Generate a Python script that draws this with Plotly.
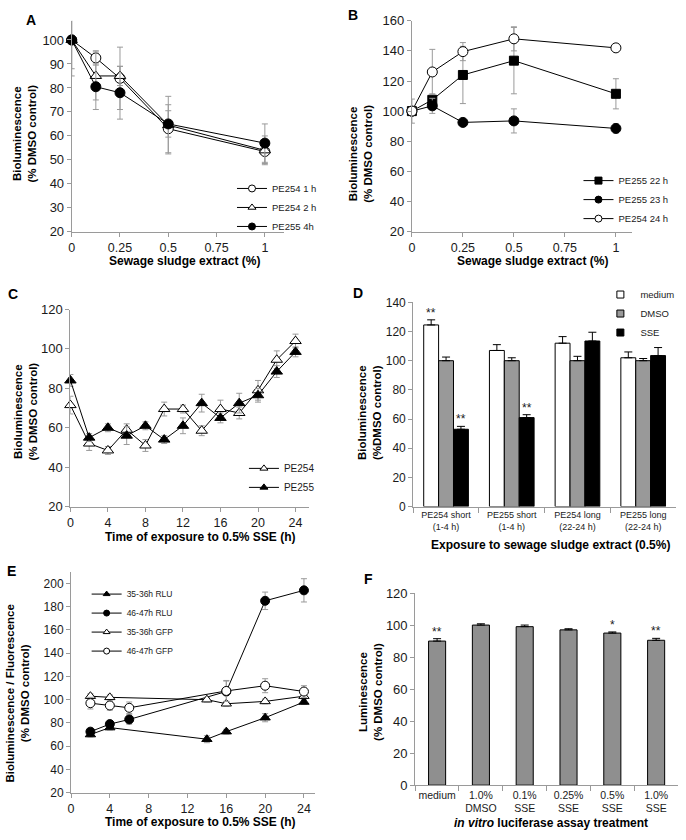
import plotly.graph_objects as go

W, H = 686, 840


def px(x):
    return x / W


def py(y):
    return 1 - y / H


# ---------------- data ----------------
# Panel A
a_x = [0, 0.125, 0.25, 0.5, 1]
a_pe254_1h = [100, 92.5, 84, 63, 53.5]
a_pe254_1h_err = [0, 3, 13, 10, 5]
a_pe254_2h = [100, 85, 85, 64.5, 54]
a_pe254_2h_err = [12, 10, 4, 12, 6]
a_pe255_4h = [100, 80.5, 78, 65, 57]
a_pe255_4h_err = [15, 9.5, 11, 5.5, 8]

# Panel B
b_x = [0, 0.1, 0.25, 0.5, 1]
b_pe255_22h = [100, 107.5, 124, 133.5, 111.5]
b_pe255_22h_err = [0, 4, 19, 22, 10]
b_pe255_23h = [100, 103.5, 92.5, 93.5, 88.5]
b_pe255_23h_err = [0, 5, 1.5, 8, 3]
b_pe254_24h = [100, 126, 139.5, 148, 142]
b_pe254_24h_err = [8, 15, 6, 8, 0]

# Panel C
c_x = [0, 2, 4, 6, 8, 10, 12, 14, 16, 18, 20, 22, 24]
c_pe254 = [71.5, 52, 48.5, 59, 51, 69.5, 69.5, 58.5, 69.5, 67.5, 79, 94.5, 104]
c_pe254_err = [4.5, 3.5, 2, 3, 3, 3.5, 2, 2.5, 4.5, 3, 5, 4.5, 3.5]
c_pe255 = [84, 55, 60, 56, 61, 54, 61, 72.5, 65, 72.5, 76.5, 88.5, 98.5]
c_pe255_err = [3, 2, 2, 4.5, 2, 2, 4, 4.5, 2.5, 5, 3.5, 3, 2.5]

# Panel D
d_cats = ["PE254 short<br>(1-4 h)", "PE255 short<br>(1-4 h)",
          "PE254 long<br>(22-24 h)", "PE255 long<br>(22-24 h)"]
d_medium = [124.5, 107, 112, 102]
d_medium_err = [3.5, 4, 4.5, 4]
d_dmso = [100, 100, 100, 100]
d_dmso_err = [2.5, 2, 3, 1.5]
d_sse = [53, 61, 113.5, 103.5]
d_sse_err = [2, 2, 6, 5.5]
d_medium_sig = ["**", "", "", ""]
d_sse_sig = ["**", "**", "", ""]

# Panel E
e_x_35 = [2, 4, 14, 16, 20, 24]
e_x_46 = [2, 4, 6, 16, 20, 24]
e_rlu_35 = [70, 76, 66, 72.5, 84.5, 98]
e_rlu_35_err = [2, 2, 3, 2, 3.5, 2]
e_rlu_46 = [72.5, 79, 83, 107, 185, 194]
e_rlu_46_err = [2, 3, 4, 9, 7.5, 10]
e_gfp_35 = [103, 102, 100, 96.5, 98.5, 103]
e_gfp_35_err = [2, 2, 2, 2, 2, 2]
e_gfp_46 = [97, 95, 93, 107.5, 112, 107]
e_gfp_46_err = [5, 4, 5, 9, 6, 5]

# Panel F
f_cats = ["medium", "1.0%<br>DMSO", "0.1%<br>SSE", "0.25%<br>SSE", "0.5%<br>SSE", "1.0%<br>SSE"]
f_vals = [90, 100, 99, 97, 95, 90.5]
f_err = [1.5, 0.8, 1, 0.7, 0.7, 1.2]
f_sig = ["**", "", "", "", "*", "**"]

# ---------------- styles ----------------
FONT = "Arial, Liberation Sans, sans-serif"
AX = "#9a9a9a"
TXT = "#1a1a1a"
ERRC = "#9a9a9a"

fig = go.Figure()


def line_trace(x, y, err, name, symbol, fill, size, xa, ya, legend, legsize=7):
    fig.add_trace(go.Scatter(
        x=x, y=y, name=name, mode="lines+markers", showlegend=False,
        line=dict(color="black", width=1),
        marker=dict(symbol=symbol, size=size, color=fill,
                    line=dict(color="black", width=1)),
        error_y=dict(type="data", array=err, color=ERRC, thickness=1, width=3),
        xaxis=xa, yaxis=ya, cliponaxis=False,
    ))
    # legend entry (no data, smaller symbol as in the reference legend)
    fig.add_trace(go.Scatter(
        x=[None], y=[None], name=name, mode="lines+markers", showlegend=True,
        line=dict(color="black", width=1),
        marker=dict(symbol=symbol, size=legsize, color=fill,
                    line=dict(color="black", width=1)),
        xaxis=xa, yaxis=ya, legend=legend,
    ))


# A
line_trace(a_x, a_pe254_1h, a_pe254_1h_err, "PE254 1 h", "circle", "white", 10, "x", "y", "legend")
line_trace(a_x, a_pe254_2h, a_pe254_2h_err, "PE254 2 h", "triangle-up", "white", 10, "x", "y", "legend")
line_trace(a_x, a_pe255_4h, a_pe255_4h_err, "PE255 4h", "circle", "black", 10, "x", "y", "legend")
# B
line_trace(b_x, b_pe255_22h, b_pe255_22h_err, "PE255 22 h", "square", "black", 9, "x2", "y2", "legend2")
line_trace(b_x, b_pe255_23h, b_pe255_23h_err, "PE255 23 h", "circle", "black", 10, "x2", "y2", "legend2")
line_trace(b_x, b_pe254_24h, b_pe254_24h_err, "PE254 24 h", "circle", "white", 10, "x2", "y2", "legend2")
# C
line_trace(c_x, c_pe254, c_pe254_err, "PE254", "triangle-up", "white", 10, "x3", "y3", "legend3")
line_trace(c_x, c_pe255, c_pe255_err, "PE255", "triangle-up", "black", 10, "x3", "y3", "legend3")
# E
line_trace(e_x_35, e_rlu_35, e_rlu_35_err, "35-36h RLU", "triangle-up", "black", 9, "x5", "y5", "legend5", 6)
line_trace(e_x_46, e_rlu_46, e_rlu_46_err, "46-47h RLU", "circle", "black", 9, "x5", "y5", "legend5", 6)
line_trace(e_x_35, e_gfp_35, e_gfp_35_err, "35-36h GFP", "triangle-up", "white", 9, "x5", "y5", "legend5", 6)
line_trace(e_x_46, e_gfp_46, e_gfp_46_err, "46-47h GFP", "circle", "white", 9, "x5", "y5", "legend5", 6)

# D bars
for vals, errs, name, col in [(d_medium, d_medium_err, "medium", "white"),
                              (d_dmso, d_dmso_err, "DMSO", "#999999"),
                              (d_sse, d_sse_err, "SSE", "black")]:
    fig.add_trace(go.Bar(
        x=d_cats, y=vals, name=name, showlegend=False,
        marker=dict(color=col, line=dict(color="black", width=1)),
        error_y=dict(type="data", array=errs, arrayminus=[0] * len(errs),
                     symmetric=False, color="black", thickness=1, width=4),
        xaxis="x4", yaxis="y4",
    ))
    fig.add_trace(go.Scatter(
        x=[None], y=[None], name=name, mode="markers", showlegend=True,
        marker=dict(symbol="square", size=7, color=col, line=dict(color="black", width=1)),
        xaxis="x4", yaxis="y4", legend="legend4",
    ))

# F bars
fig.add_trace(go.Bar(
    x=f_cats, y=f_vals, name="F", showlegend=False, width=0.39,
    marker=dict(color="#8f8f8f", line=dict(color="black", width=1)),
    error_y=dict(type="data", array=f_err, arrayminus=[0] * len(f_err),
                 symmetric=False, color="black", thickness=1, width=4),
    xaxis="x6", yaxis="y6",
))


def axis(domain, anchor, rng=None, tickfont=13, **kw):
    d = dict(domain=domain, anchor=anchor, showline=True, linecolor=AX, linewidth=1,
             ticks="outside", ticklen=4, tickcolor=AX, tickwidth=1,
             showgrid=False, zeroline=False,
             tickfont=dict(family=FONT, size=tickfont, color=TXT))
    if rng is not None:
        d["range"] = rng
        d["autorange"] = False
    d.update(kw)
    return d


frac_ticks = [0, 0.25, 0.5, 0.75, 1]
frac_text = ["0", "0.25", "0.5", "0.75", "1"]

A_x = [px(69), px(282.4)]
A_y = [py(229), py(14)]
B_x = [px(410.7), px(632)]
B_y = [py(228.7), py(14)]
C_x = [px(67.7), px(307)]
C_y = [py(508.7), py(308)]
D_x = [px(412), px(676)]
D_y = [py(508.7), py(300.7)]
E_x = [px(68.3), px(313)]
E_y = [py(800), py(575)]
F_x = [px(414), px(678)]
F_y = [py(792.3), py(596.7)]

fig.update_layout(
    width=W, height=H, margin=dict(l=0, r=0, t=0, b=0),
    paper_bgcolor="white", plot_bgcolor="white",
    font=dict(family=FONT, color=TXT),
    barmode="group",
    xaxis=axis(A_x, "y", [0, 1.1], 12.5, tickvals=frac_ticks, ticktext=frac_text),
    yaxis=axis(A_y, "x", [20, 108], 13, tickvals=list(range(20, 101, 10))),
    xaxis2=axis(B_x, "y2", [0, 1.08], 12.5, tickvals=frac_ticks, ticktext=frac_text),
    yaxis2=axis(B_y, "x2", [20, 160], 13, tickvals=list(range(20, 161, 20))),
    xaxis3=axis(C_x, "y3", [0, 25.4], 12.5, tickvals=list(range(0, 25, 4))),
    yaxis3=axis(C_y, "x3", [20, 120], 13, tickvals=list(range(20, 121, 20))),
    xaxis4=axis(D_x, "y4", None, 9, type="category", tickson="boundaries", ticklen=5, tickangle=0),
    yaxis4=axis(D_y, "x4", [0, 140], 12, tickvals=list(range(0, 141, 20))),
    xaxis5=axis(E_x, "y5", [0, 25.1], 12.5, tickvals=list(range(0, 25, 4))),
    yaxis5=axis(E_y, "x5", [20, 210], 12, tickvals=list(range(20, 201, 20))),
    xaxis6=axis(F_x, "y6", None, 10.5, type="category", tickson="boundaries", ticklen=5, tickangle=0),
    yaxis6=axis(F_y, "x6", [0, 120], 13, tickvals=list(range(0, 121, 20))),
    bargap=0.32, bargroupgap=0,
)

leg_common = dict(bgcolor="rgba(0,0,0,0)", borderwidth=0, xanchor="left", yanchor="top",
                  tracegroupgap=0, itemclick=False, itemdoubleclick=False)
fig.update_layout(
    legend=dict(x=px(230), y=py(170), font=dict(family=FONT, size=9.5, color=TXT), **leg_common),
    legend2=dict(x=px(578), y=py(162), font=dict(family=FONT, size=9.5, color=TXT), **leg_common),
    legend3=dict(x=px(242), y=py(455), font=dict(family=FONT, size=10, color=TXT), **leg_common),
    legend4=dict(x=px(600), y=py(278), font=dict(family=FONT, size=9.5, color=TXT), **leg_common),
    legend5=dict(x=px(84), y=py(583), font=dict(family=FONT, size=8.5, color=TXT), **leg_common),
)

ann = []


def title_ann(text, x, y, size=12, angle=0):
    ann.append(dict(text=text, x=px(x), y=py(y), xref="paper", yref="paper",
                    showarrow=False, xanchor="center", yanchor="middle",
                    textangle=angle, font=dict(family=FONT, size=size, color="black")))


bio = "<b>Bioluminescence<br>(% DMSO control)</b>"
title_ann(bio, 22, 129, 11.5, -90)
title_ann("<b>Sewage sludge extract (%)</b>", 182, 259, 12)
title_ann(bio, 359, 149, 11.5, -90)
title_ann("<b>Sewage sludge extract (%)</b>", 532, 259, 12)
title_ann(bio, 23, 412, 11.5, -90)
title_ann("<b>Time of exposure to 0.5% SSE (h)</b>", 198, 540, 12)
title_ann("<b>Bioluminescence<br>(%DMSO control)</b>", 368, 413, 11.5, -90)
title_ann("<b>Exposure to sewage sludge extract (0.5%)</b>", 550, 548, 12)
title_ann("<b>Bioluminescence / Fluorescence<br>(% DMSO control)</b>", 15, 699, 11.5, -90)
title_ann("<b>Time of exposure to 0.5% SSE (h)</b>", 198, 830, 12)
title_ann("<b>Luminescence<br>(% DMSO control)</b>", 369, 697, 11.5, -90)
title_ann("<b><i>in vitro</i> luciferase assay treatment</b>", 550, 831, 12)

for letter, x, y in [("A", 21, 13), ("B", 345, 8), ("C", 3, 292), ("D", 350, 291),
                     ("E", 2, 574), ("F", 361, 582)]:
    ann.append(dict(text="<b>%s</b>" % letter, x=px(x), y=py(y), xref="paper", yref="paper",
                    showarrow=False, xanchor="left", yanchor="middle",
                    font=dict(family=FONT, size=14, color="black")))

# significance marks
for i, s in enumerate(d_medium_sig):
    if s:
        ann.append(dict(text=s, x=d_cats[i], y=d_medium[i] + d_medium_err[i], xref="x4", yref="y4",
                        xshift=-15, yshift=-2, showarrow=False, yanchor="bottom",
                        font=dict(family=FONT, size=12, color=TXT)))
for i, s in enumerate(d_sse_sig):
    if s:
        ann.append(dict(text=s, x=d_cats[i], y=d_sse[i] + d_sse_err[i], xref="x4", yref="y4",
                        xshift=15, yshift=-2, showarrow=False, yanchor="bottom",
                        font=dict(family=FONT, size=12, color=TXT)))
for i, s in enumerate(f_sig):
    if s:
        ann.append(dict(text=s, x=f_cats[i], y=f_vals[i] + f_err[i], xref="x6", yref="y6",
                        yshift=-2, showarrow=False, yanchor="bottom",
                        font=dict(family=FONT, size=12, color=TXT)))

fig.update_layout(annotations=ann)

fig.write_html(
    "out.html",
    config={"displayModeBar": False},
    post_script="document.body.style.margin='0';document.body.style.padding='0';"
                "document.documentElement.style.overflow='hidden';",
)
